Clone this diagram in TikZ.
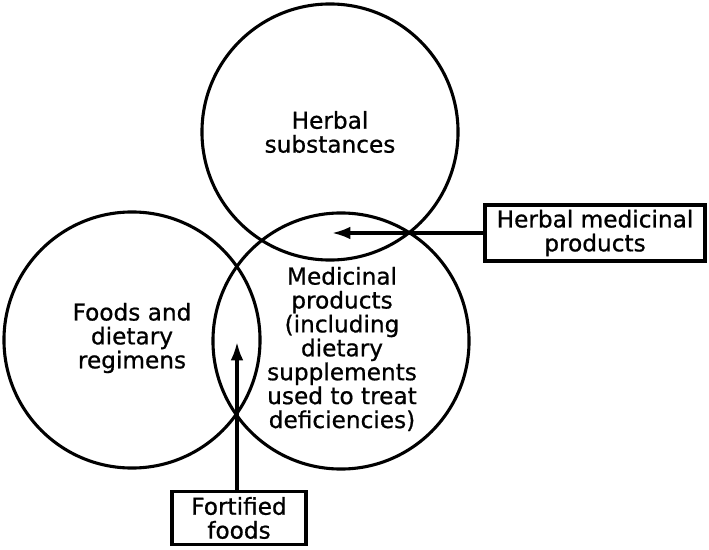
\documentclass[tikz,border=0pt]{standalone}
\usepackage{fontspec}
\setmainfont{DejaVu Sans}
\newfontfamily\labelfont[FakeBold=0.8]{DejaVu Sans}
\usepackage{tikz}
\usetikzlibrary{arrows.meta}
\newcommand{\ptrarrow}{-{Latex[length=13pt,width=9pt]}}

\begin{document}
\begin{tikzpicture}[x=0.025cm,y=-0.025cm,
		every node/.style={font=\labelfont\fontsize{16.5pt}{17pt}\selectfont,align=center},
		ring/.style={circle,draw,line width=2.2pt,minimum size=6.4cm,inner sep=0pt},
		tagbox/.style={rectangle,draw,line width=2.2pt,inner sep=2pt}]
					\useasboundingbox (0,0) rectangle (709,550);
					\node[ring] (herbring) at (330,132) {};
					\node[ring] (foodring) at (132,340) {};
					\node[ring] (medring) at (341,341) {};
					\node (herbtxt) at (330,132) {Herbal\\substances};
					\node (foodtxt) at (132,338) {Foods and\\dietary\\regimens};
					\node (medtxt) at (342,349) {Medicinal\\products\\(including\\dietary\\supplements\\used to treat\\deficiencies)};
					\node[tagbox,minimum width=5.5cm,minimum height=1.4cm] (herbbox) at (595,233) {Herbal medicinal\\products};
					\node[tagbox,minimum width=3.35cm,minimum height=1.33cm] (fortbox) at (239,518) {Fortified\\foods};
					\coordinate (herbtip) at (332,233);
					\coordinate (forttip) at (237,342);
					\draw[\ptrarrow,line width=2.2pt] (herbbox.west) -- (herbtip);
					\draw[\ptrarrow,line width=2.2pt] (forttip |- fortbox.north) -- (forttip);
				\end{tikzpicture}
\end{document}
